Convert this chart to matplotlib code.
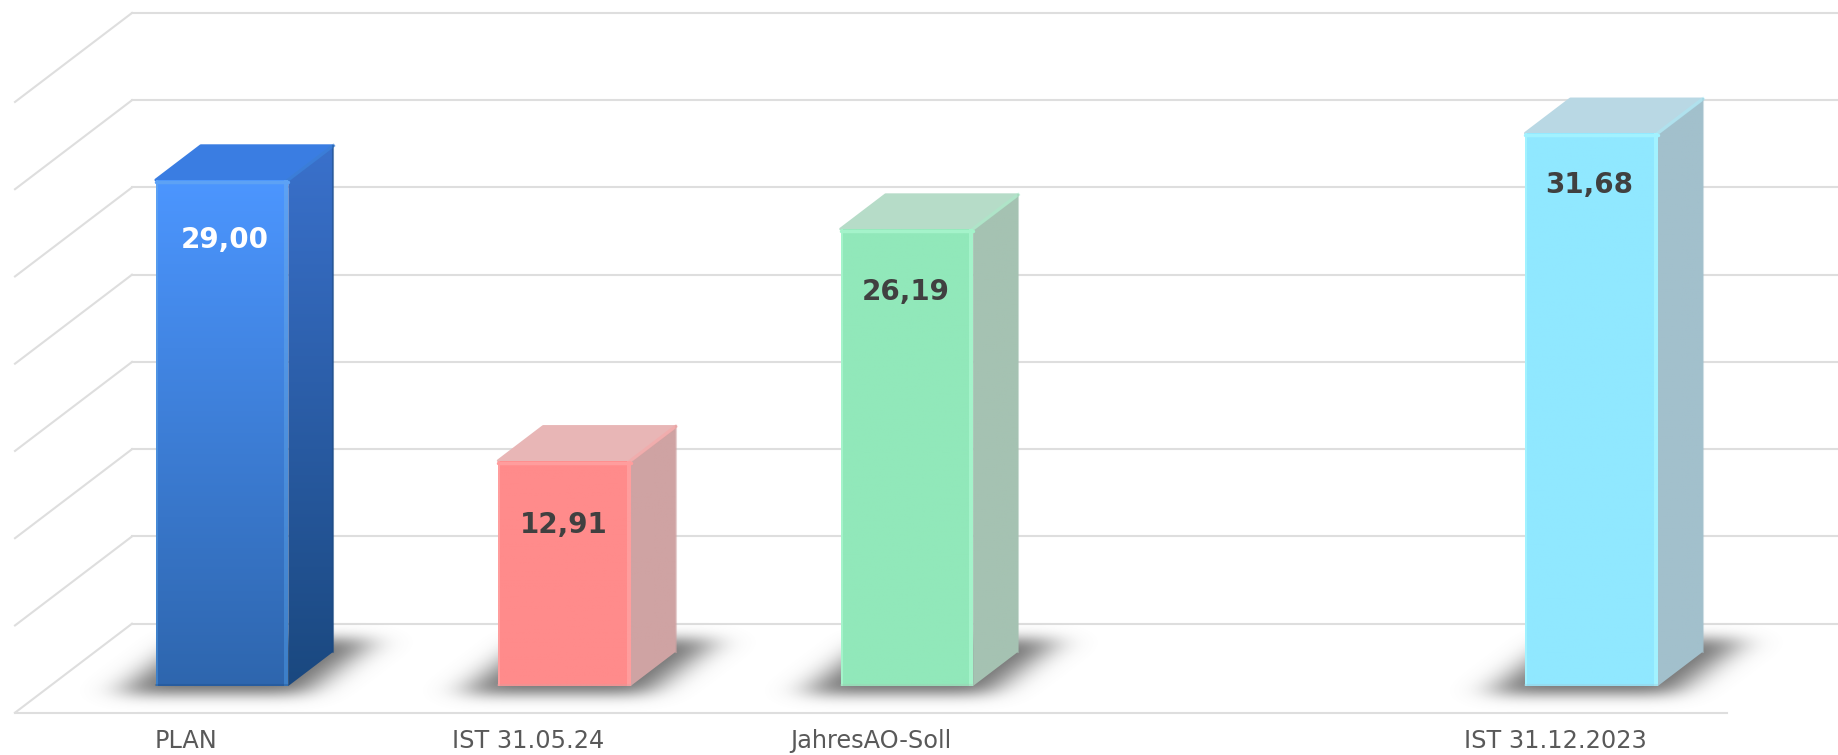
import numpy as np
import matplotlib
matplotlib.use('Agg')
import matplotlib.pyplot as plt
from matplotlib.patches import Polygon
from matplotlib.colors import LinearSegmentedColormap

# Daten
categories = ['PLAN', 'IST 31.05.24', 'JahresAO-Soll', '', 'IST 31.12.2023']
values = [29.00, 12.91, 26.19, None, 31.68]
grid_values = [0, 5, 10, 15, 20, 25, 30, 35]

# Farben je Balken: Front oben/unten, Seite oben/unten, Deckel, Kante oben/unten, Text
front_top = ['#4c96ff', '#ff8b8b', '#91e8ba', None, '#90e8ff']
front_bot = ['#2e66ae', '#ff8b8b', '#91e8ba', None, '#90e8ff']
side_top = ['#3a71cc', '#cfa3a3', '#a5c2b2', None, '#a2c0cc']
side_bot = ['#1a487f', '#cfa3a3', '#a5c2b2', None, '#a2c0cc']
lid = ['#3a7de2', '#e8b6b6', '#b6dcc8', None, '#b9d8e4']
edge_top = ['#5da2f5', '#ff9d9d', '#a4f3ca', None, '#a2f2ff']
edge_bot = ['#3d7fc8', '#ff9d9d', '#a4f3ca', None, '#a2f2ff']
label_col = ['white', '#404040', '#404040', None, '#404040']

# Lage der Wertetexte in Pixeln (unter Balkenoberkante / seitlich)
label_off = [60, 64, 63, None, 52]
label_dx = [3.5, 0, 0, None, -2]

# Projektion (Kategorie, Wert, Tiefe) -> Datenkoordinaten
W, H = 1838, 755
band = 342.4
unit = 17.45
x0_px, y0_px = 15, 712.7
depth_x = 117 / band
depth_y = 89 / unit
half_w = 67 / band
d_front, d_back = 0.30, 0.685
front_dx = 1.5 / band


def pt(c, v, d):
    return (c + d * depth_x, v + d * depth_y)


def gradient_face(ax, corners, c_top, c_bot, zorder):
    poly = Polygon(corners, closed=True, facecolor='none', edgecolor='none',
                   transform=ax.transData, zorder=zorder)
    ax.add_patch(poly)
    xs = [p[0] for p in corners]
    ys = [p[1] for p in corners]
    cmap = LinearSegmentedColormap.from_list('f', [c_bot, c_top])
    im = ax.imshow(np.linspace(0, 1, 256)[:, None], origin='lower', cmap=cmap, aspect='auto',
                   extent=(min(xs), max(xs), min(ys), max(ys)), zorder=zorder)
    im.set_clip_path(poly)


def blur(arr, sigma, axis):
    r = int(sigma * 3)
    kern = np.exp(-0.5 * (np.arange(-r, r + 1) / sigma) ** 2)
    kern /= kern.sum()
    return np.apply_along_axis(lambda m: np.convolve(m, kern, mode='same'), axis, arr)


def shadow(ax, c):
    xg = np.linspace(c - 0.45, c + 0.95, 480)
    yg = np.linspace(-1.0, depth_y * 1.1, 120)
    X, Y = np.meshgrid(xg, yg)
    d = Y / depth_y
    cc = X - d * depth_x - c
    mask = ((np.abs(cc) < 0.27) & (d > 0.20) & (d < 0.82)).astype(float)
    mask = blur(mask, 18, 1)
    mask = blur(mask, 7, 0)
    img = np.zeros(mask.shape + (4,))
    img[..., :3] = 0.47
    img[..., 3] = np.clip(mask * 1.05, 0, 1)
    ax.imshow(img, origin='lower', aspect='auto', zorder=2,
              extent=(xg[0], xg[-1], yg[0], yg[-1]))


fig = plt.figure(figsize=(W / 100, H / 100), dpi=100)
ax = fig.add_axes([0, 0, 1, 1])
ax.axis('off')

# Gitter: Rueckwand, linke Wand, Boden
grid_col = '#dedede'
for g in grid_values:
    p0 = pt(-0.5, g, 0)
    p1 = pt(-0.5, g, 1)
    ax.plot([p0[0], p1[0]], [p0[1], p1[1]], color=grid_col, lw=1.5, zorder=1)
    ax.plot([p1[0], p1[0] + 6], [p1[1], p1[1]], color=grid_col, lw=1.5, zorder=1)
ax.plot([-0.5, 4.5], [0, 0], color=grid_col, lw=1.5, zorder=1)

# Balken
for i, (cat, val) in enumerate(zip(categories, values)):
    ax.text(i, -(741 - y0_px) / unit, cat, ha='center', va='center', fontsize=17.3,
            color='#595959', family='DejaVu Sans', zorder=8)
    if val is None:
        continue
    shadow(ax, i)
    l, r = i - half_w + front_dx, i + half_w
    a, b = pt(l, 0, d_front), pt(r, 0, d_front)
    c, e = pt(r, val, d_front), pt(l, val, d_front)
    f, g_ = pt(l, val, d_back), pt(r, val, d_back)
    h = pt(r, 0, d_back)

    gradient_face(ax, [b, h, g_, c], side_top[i], side_bot[i], 3)
    ax.add_patch(Polygon([e, f, g_, c], closed=True, facecolor=lid[i], edgecolor=lid[i],
                         lw=2, joinstyle='round', zorder=3))
    # runde Aussenkanten
    ax.plot([h[0], g_[0]], [h[1], g_[1]], color=side_bot[i], lw=1.5, zorder=3.5, alpha=0.5)
    ax.plot([c[0], g_[0]], [c[1], g_[1]], color=edge_bot[i], lw=2.5, zorder=3.5, alpha=0.35)
    gradient_face(ax, [a, b, c, e], front_top[i], front_bot[i], 4)

    # Fasen an der Front
    bevel = 4 / band
    gradient_face(ax, [(b[0] - bevel, a[1]), b, c, (b[0] - bevel, c[1])],
                  edge_top[i], edge_bot[i], 5)
    gradient_face(ax, [a, (a[0] + bevel / 2, a[1]), (a[0] + bevel / 2, e[1]), e],
                  edge_top[i], edge_bot[i], 5)
    ax.plot([e[0], c[0]], [e[1] - 2 / unit, c[1] - 2 / unit], color=edge_top[i], lw=2.5,
            solid_capstyle='round', zorder=6)
    ax.plot([a[0], b[0]], [a[1] + 1 / unit, b[1] + 1 / unit], color=side_bot[i], lw=1.5,
            alpha=0.3, zorder=6)

    ax.text(i + d_front * depth_x + label_dx[i] / band, e[1] - label_off[i] / unit,
            f'{val:.2f}'.replace('.', ','),
            ha='center', va='center', fontsize=20, fontweight='bold',
            family='DejaVu Sans', color=label_col[i], zorder=9)

ax.set_xlim(-0.5 - x0_px / band, -0.5 + (W - x0_px) / band)
ax.set_ylim(-(H - y0_px) / unit, y0_px / unit)

fig.savefig('out.png', dpi=100, facecolor='white')
